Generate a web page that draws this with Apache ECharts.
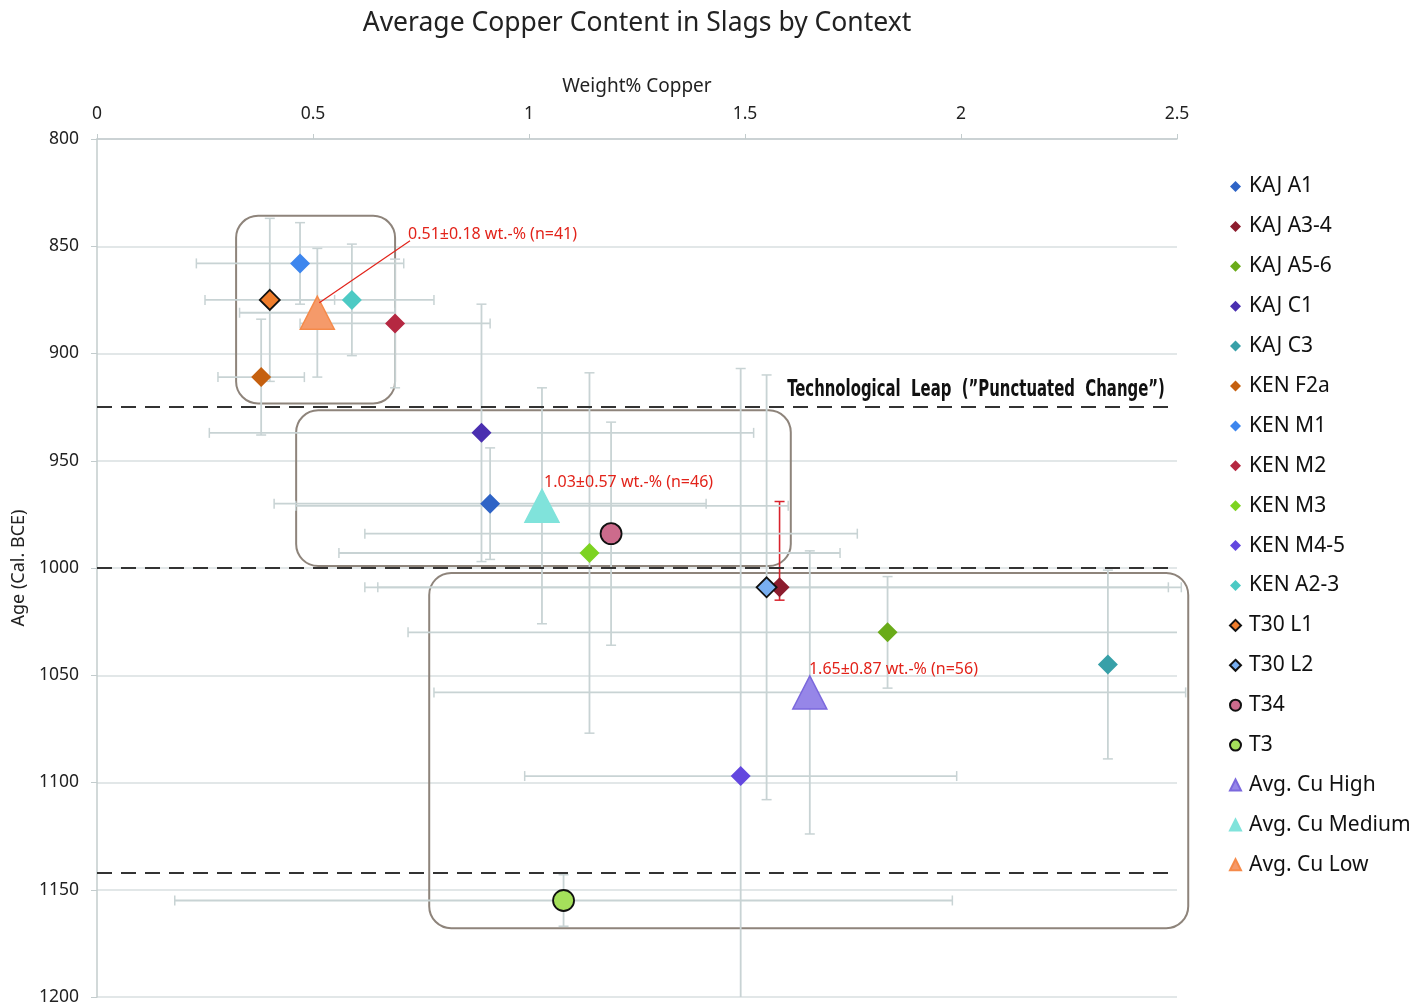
<!DOCTYPE html>
<html>
<head>
<meta charset="utf-8">
<script src="https://cdn.jsdelivr.net/npm/echarts@6/dist/echarts.min.js"></script>
<style>
html,body{margin:0;padding:0;background:#fff;}
#c{width:1426px;height:1006px;}
</style>
</head>
<body>
<div id="c"></div>
<script>
// ---------------- DATA ----------------
const names = ["KAJ A1","KAJ A3-4","KAJ A5-6","KAJ C1","KAJ C3","KEN F2a","KEN M1","KEN M2","KEN M3","KEN M4-5","KEN A2-3","T30 L1","T30 L2","T34","T3","Avg. Cu High","Avg. Cu Medium","Avg. Cu Low"];
const copper = [0.91, 1.58, 1.83, 0.89, 2.34, 0.38, 0.47, 0.69, 1.14, 1.49, 0.59, 0.40, 1.55, 1.19, 1.08, 1.65, 1.03, 0.51];
const ages   = [970, 1009, 1030, 937, 1045, 911, 858, 886, 993, 1097, 875, 875, 1009, 984, 1155, 1058, 971, 881];
const copperErr = [0.50, 0.93, 1.11, 0.63, 0, 0.10, 0.24, 0.22, 0.58, 0.50, 0.19, 0.15, 0.93, 0.57, 0.90, 0.87, 0.57, 0.18];
const ageErrMinus = [26, 40, 26, 60, 44, 27, 19, 30, 84, 190, 26, 38, 99, 52, 12, 66, 55, 30];
const ageErrPlus  = [26, 6, 26, 60, 44, 27, 19, 30, 84, 190, 26, 38, 99, 52, 12, 66, 55, 30];

const xTicks = [0, 0.5, 1, 1.5, 2, 2.5];
const yTicks = [800, 850, 900, 950, 1000, 1050, 1100, 1150, 1200];

const phaseBoundaries = [925, 1000, 1142];
const leapLabel = "Technological  Leap  (\u201DPunctuated  Change\u201D)";
const leapAnchor = [2.472, 917];

// grouping boxes [copper0, age0, copper1, age1]
const boxCopper0 = [0.322, 0.461, 0.769];
const boxCopper1 = [0.690, 1.606, 2.526];
const boxAge0 = [835.8, 926.5, 1002.3];
const boxAge1 = [923.3, 999.1, 1167.9];

const annotTexts = ["0.51\u00B10.18 wt.-% (n=41)", "1.03\u00B10.57 wt.-% (n=46)", "1.65\u00B10.87 wt.-% (n=56)"];
const annotCopper = [0.72, 1.035, 1.648];
const annotAge = [848.4, 963.7, 1051];
const annotLeaderTo = [17, -1, -1]; // index of point the label points to (-1 none)

// ---------------- STYLE ----------------
const styles = [
  {c:"#2e63c6", s:"diamond"},
  {c:"#8c1c2e", s:"diamond"},
  {c:"#6aab19", s:"diamond"},
  {c:"#4a2fb0", s:"diamond"},
  {c:"#37a0a8", s:"diamond"},
  {c:"#c5600f", s:"diamond"},
  {c:"#3d86ee", s:"diamond"},
  {c:"#b52841", s:"diamond"},
  {c:"#7dd321", s:"diamond"},
  {c:"#6347df", s:"diamond"},
  {c:"#4ccac4", s:"diamond"},
  {c:"#ef7d2c", s:"diamond", b:"#111"},
  {c:"#78aef0", s:"diamond", b:"#111"},
  {c:"#cc6b8c", s:"circle", b:"#111"},
  {c:"#a5e05b", s:"circle", b:"#111"},
  {c:"#9686e8", s:"triangle", b:"#7b68dd"},
  {c:"#80e3db", s:"triangle", b:"#80e3db"},
  {c:"#f59a6a", s:"triangle", b:"#f58a4a"}
];
const ERR = "#c8d3d4";
const RED = "#e2231a";
const FONT = "'Noto Sans', 'Open Sans', sans-serif";

const chart = echarts.init(document.getElementById('c'));

const series = [];

// boxes
series.push({
  type:'custom', name:'boxes', z:1, silent:true,
  data: boxCopper0.map((v,i)=>[v, boxAge0[i], boxCopper1[i], boxAge1[i]]),
  renderItem(params, api){
    const p0 = api.coord([api.value(0), api.value(1)]);
    const p1 = api.coord([api.value(2), api.value(3)]);
    return {type:'rect', shape:{x:p0[0], y:p0[1], width:p1[0]-p0[0], height:p1[1]-p0[1], r:22},
      style:{fill:'none', stroke:'#8e847b', lineWidth:2}};
  },
  clip:false
});

// error bars
series.push({
  type:'custom', name:'errors', z:2, silent:true,
  data: names.map((n,i)=>[copper[i], ages[i], copperErr[i], ageErrMinus[i], ageErrPlus[i], i]),
  renderItem(params, api){
    const x = api.value(0), y = api.value(1), ex = api.value(2), em = api.value(3), ep = api.value(4), idx = api.value(5);
    const cs = params.coordSys;
    const c = api.coord([x,y]);
    const children = [];
    const cap = 5;
    const vColor = idx === 1 ? '#d8222c' : ERR;
    if (ex > 0) {
      let l = api.coord([x-ex,y])[0], r = api.coord([x+ex,y])[0];
      let lc = true, rc = true;
      if (r > cs.x + cs.width + 10) { r = cs.x + cs.width; rc = false; }
      if (l < cs.x - 10) { l = cs.x; lc = false; }
      children.push({type:'line', shape:{x1:l,y1:c[1],x2:r,y2:c[1]}, style:{stroke:ERR, lineWidth:1.8}});
      if (lc) children.push({type:'line', shape:{x1:l,y1:c[1]-cap,x2:l,y2:c[1]+cap}, style:{stroke:ERR, lineWidth:1.5}});
      if (rc) children.push({type:'line', shape:{x1:r,y1:c[1]-cap,x2:r,y2:c[1]+cap}, style:{stroke:ERR, lineWidth:1.5}});
    }
    let t = api.coord([x, y-em])[1], b = api.coord([x, y+ep])[1];
    let tc = true, bc = true;
    if (b > cs.y + cs.height) { b = cs.y + cs.height; bc = false; }
    if (t < cs.y) { t = cs.y; tc = false; }
    children.push({type:'line', shape:{x1:c[0],y1:t,x2:c[0],y2:b}, style:{stroke:vColor, lineWidth:idx===1?1.6:1.8}});
    if (tc) children.push({type:'line', shape:{x1:c[0]-cap,y1:t,x2:c[0]+cap,y2:t}, style:{stroke:vColor, lineWidth:1.5}});
    if (bc) children.push({type:'line', shape:{x1:c[0]-cap,y1:b,x2:c[0]+cap,y2:b}, style:{stroke:vColor, lineWidth:1.5}});
    return {type:'group', children};
  },
  clip:false
});

// phase boundary dashed lines
series.push({
  type:'line', name:'phases', data:[], z:3, silent:true,
  markLine:{
    silent:true, symbol:['none','none'], label:{show:false},
    lineStyle:{color:'#333', width:2, type:[15,9]},
    data: phaseBoundaries.map(a=>({yAxis:a}))
  }
});

// markers
names.forEach((n,i)=>{
  const st = styles[i];
  let size = 20;
  if (st.s === 'circle') size = 21;
  if (st.s === 'triangle') size = [34,33];
  series.push({
    type:'scatter', name:n, z:5,
    symbol: st.s, symbolSize: size,
    itemStyle:{color:st.c, borderColor: st.b || st.c, borderWidth: st.b ? (st.s==='triangle'?1.5:1.8) : 0, opacity:1},
    data:[[copper[i], ages[i]]]
  });
});

// annotations
series.push({
  type:'custom', name:'annot', z:6, silent:true,
  data: annotTexts.map((t,i)=>[annotCopper[i], annotAge[i], annotLeaderTo[i], i]),
  renderItem(params, api){
    const i = api.value(3);
    const p = api.coord([api.value(0), api.value(1)]);
    const children = [{type:'text', x:p[0], y:p[1], style:{text:annotTexts[i], fill:RED, font:"16px " + FONT, textAlign:'left', textVerticalAlign:'bottom'}}];
    const to = api.value(2);
    if (to >= 0) {
      const q = api.coord([copper[to], ages[to]]);
      children.push({type:'line', shape:{x1:p[0]+2, y1:p[1]-2, x2:q[0]+2, y2:q[1]-10}, style:{stroke:RED, lineWidth:1.2}});
    }
    return {type:'group', children};
  },
  clip:false
});

// technological leap label
series.push({
  type:'custom', name:'leap', z:6, silent:true,
  data:[leapAnchor],
  renderItem(params, api){
    const p = api.coord([api.value(0), api.value(1)]);
    return {type:'text', x:p[0], y:p[1], scaleX:0.72, style:{text:leapLabel, fill:'#111', font:"bold 23px 'DejaVu Sans Condensed', 'DejaVu Sans', sans-serif", textAlign:'right', textVerticalAlign:'middle'}};
  },
  clip:false
});

const option = {
  animation:false,
  backgroundColor:'#fff',
  graphic:[{type:'text', x:637, y:23, style:{text:'Average Copper Content in Slags by Context', fill:'#222', font:"26.5px " + FONT, textAlign:'center', textVerticalAlign:'middle'}}],
  grid:{left:97, right:249, top:139, bottom:7, containLabel:false},
  legend:{
    orient:'vertical', left:1229, top:176, itemGap:18.9, itemWidth:11, itemHeight:11, padding:0,
    data:names,
    textStyle:{fontSize:21, color:'#111', fontFamily:FONT, lineHeight:20, padding:[0,0,0,3]},
    selectedMode:false
  },
  xAxis:{
    type:'value', position:'top', min:0, max:2.5, interval:0.5,
    name:'Weight% Copper', nameLocation:'middle', nameGap:43,
    nameTextStyle:{fontSize:19, color:'#222', fontFamily:FONT},
    axisLine:{show:true, lineStyle:{color:'#c3cccd', width:1.5}},
    axisTick:{show:true, length:5, lineStyle:{color:'#c3cccd'}},
    axisLabel:{fontSize:17.5, color:'#222', fontFamily:FONT, margin:16, formatter:v=>String(v)},
    splitLine:{show:false}
  },
  yAxis:{
    type:'value', inverse:true, min:800, max:1200, interval:50,
    name:'Age (Cal. BCE)', nameLocation:'middle', nameGap:68, nameRotate:90,
    nameTextStyle:{fontSize:18, color:'#222', fontFamily:FONT},
    axisLine:{show:true, lineStyle:{color:'#c3cccd', width:1.5}},
    axisTick:{show:true, length:6, lineStyle:{color:'#c3cccd'}},
    axisLabel:{fontSize:17.5, color:'#222', fontFamily:FONT, margin:18, formatter:v=>String(v)},
    splitLine:{show:true, lineStyle:{color:'#d8dfe0', width:1.5}}
  },
  series
};
chart.setOption(option);
</script>
</body>
</html>
